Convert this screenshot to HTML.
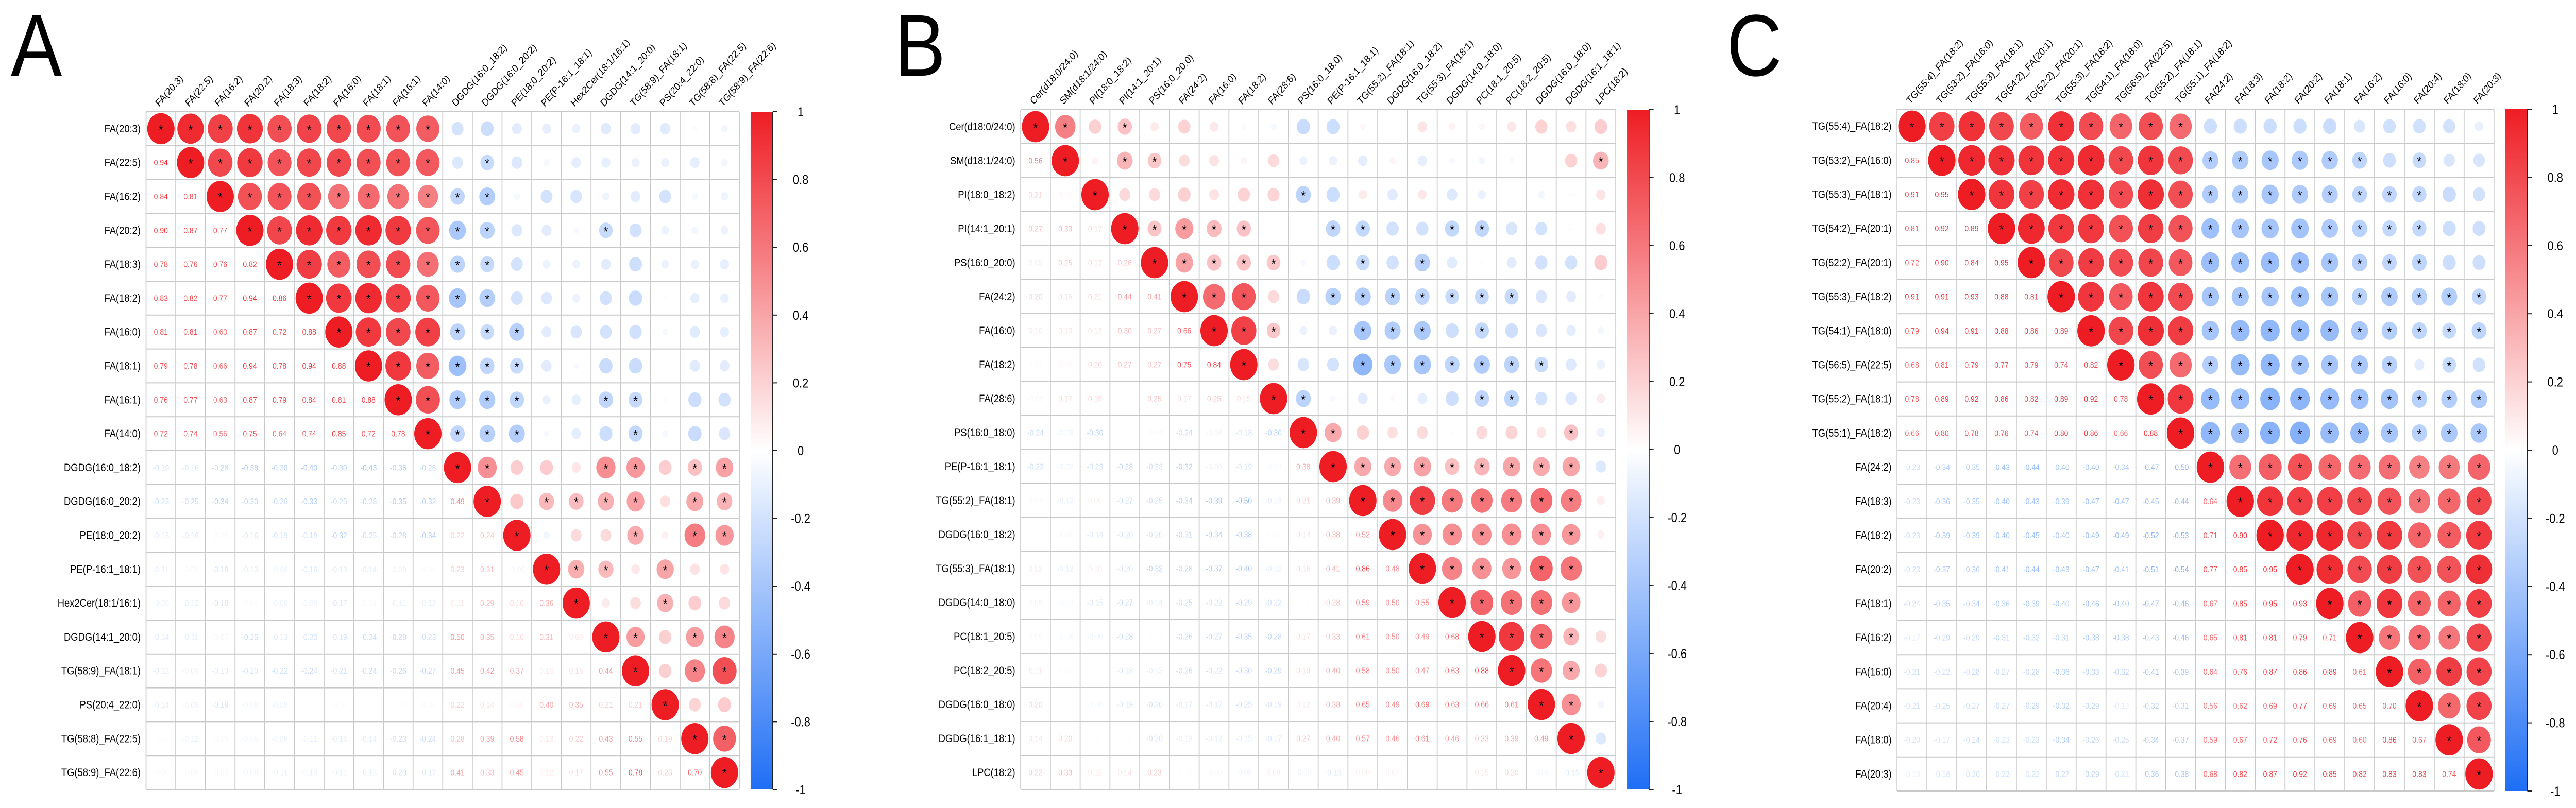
<!DOCTYPE html>
<html><head><meta charset="utf-8"><style>
html,body{margin:0;padding:0;background:#fff;overflow:hidden;width:100%;height:100%;}
svg{display:block;position:absolute;left:0;top:0;width:100vw;height:100vh;font-family:"Liberation Sans",sans-serif;}
</style></head><body>
<svg id="fig" viewBox="0 0 5714 1569" preserveAspectRatio="none" xmlns="http://www.w3.org/2000/svg"></svg>
<script>
const labelsA = ["FA(20:3)","FA(22:5)","FA(16:2)","FA(20:2)","FA(18:3)","FA(18:2)","FA(16:0)","FA(18:1)","FA(16:1)","FA(14:0)","DGDG(16:0_18:2)","DGDG(16:0_20:2)","PE(18:0_20:2)","PE(P-16:1_18:1)","Hex2Cer(18:1/16:1)","DGDG(14:1_20:0)","TG(58:9)_FA(18:1)","PS(20:4_22:0)","TG(58:8)_FA(22:5)","TG(58:9)_FA(22:6)"];
const labelsB = ["Cer(d18:0/24:0)","SM(d18:1/24:0)","PI(18:0_18:2)","PI(14:1_20:1)","PS(16:0_20:0)","FA(24:2)","FA(16:0)","FA(18:2)","FA(28:6)","PS(16:0_18:0)","PE(P-16:1_18:1)","TG(55:2)_FA(18:1)","DGDG(16:0_18:2)","TG(55:3)_FA(18:1)","DGDG(14:0_18:0)","PC(18:1_20:5)","PC(18:2_20:5)","DGDG(16:0_18:0)","DGDG(16:1_18:1)","LPC(18:2)"];
const labelsC = ["TG(55:4)_FA(18:2)","TG(53:2)_FA(16:0)","TG(55:3)_FA(18:1)","TG(54:2)_FA(20:1)","TG(52:2)_FA(20:1)","TG(55:3)_FA(18:2)","TG(54:1)_FA(18:0)","TG(56:5)_FA(22:5)","TG(55:2)_FA(18:1)","TG(55:1)_FA(18:2)","FA(24:2)","FA(18:3)","FA(18:2)","FA(20:2)","FA(18:1)","FA(16:2)","FA(16:0)","FA(20:4)","FA(18:0)","FA(20:3)"];
const corrA = [[],[0.94],[0.84,0.81],[0.90,0.87,0.77],[0.78,0.76,0.76,0.82],[0.83,0.82,0.77,0.94,0.86],[0.81,0.81,0.63,0.87,0.72,0.88],[0.79,0.78,0.66,0.94,0.78,0.94,0.88],[0.76,0.77,0.63,0.87,0.79,0.84,0.81,0.88],[0.72,0.74,0.56,0.75,0.64,0.74,0.85,0.72,0.78],[-0.19,-0.16,-0.28,-0.38,-0.30,-0.40,-0.30,-0.43,-0.36,-0.28],[-0.23,-0.25,-0.34,-0.30,-0.26,-0.33,-0.25,-0.28,-0.35,-0.32,0.49],[-0.13,-0.16,-0.05,-0.16,-0.19,-0.19,-0.32,-0.25,-0.28,-0.34,0.22,0.24],[-0.11,-0.05,-0.19,-0.13,-0.08,-0.16,-0.13,-0.14,-0.09,-0.04,0.23,0.31,-0.06],[-0.09,-0.12,-0.18,-0.04,-0.08,-0.08,-0.17,-0.04,-0.11,-0.12,0.11,0.29,0.16,0.36],[-0.14,-0.11,-0.07,-0.25,-0.13,-0.20,-0.19,-0.24,-0.28,-0.23,0.50,0.35,0.16,0.31,0.09],[-0.13,-0.09,-0.13,-0.20,-0.22,-0.24,-0.21,-0.24,-0.26,-0.27,0.45,0.42,0.37,0.10,0.15,0.44],[-0.14,-0.09,-0.19,-0.08,-0.08,-0.02,-0.04,-0.01,-0.02,-0.05,0.22,0.14,0.06,0.40,0.35,0.21,0.21],[-0.03,-0.12,-0.05,-0.06,-0.09,-0.11,-0.14,-0.14,-0.23,-0.24,0.28,0.39,0.58,0.13,0.22,0.43,0.55,0.19],[-0.06,-0.06,-0.07,-0.08,-0.11,-0.10,-0.11,-0.13,-0.20,-0.17,0.41,0.33,0.45,0.12,0.17,0.55,0.78,0.23,0.70]];
const corrB = [[],[0.56],[0.21,0.05],[0.27,0.33,0.17],[0.09,0.25,0.17,0.26],[0.20,0.15,0.21,0.44,0.41],[0.10,0.13,0.13,0.30,0.27,0.66],[0.03,0.05,0.20,0.27,0.27,0.75,0.84],[-0.05,0.17,0.19,0.01,0.25,0.17,0.25,0.15],[-0.24,-0.08,-0.30,0.01,-0.04,-0.24,-0.08,-0.18,-0.30],[-0.23,-0.09,-0.23,-0.28,-0.23,-0.32,-0.09,-0.19,-0.04,0.38],[0.04,-0.12,0.09,-0.27,-0.25,-0.34,-0.39,-0.50,-0.13,0.21,0.39],[0.01,0.05,-0.14,-0.20,-0.20,-0.31,-0.34,-0.38,0.03,0.14,0.38,0.52],[0.12,-0.12,0.10,-0.20,-0.32,-0.28,-0.37,-0.40,-0.12,0.16,0.41,0.86,0.48],[0.06,-0.04,-0.15,-0.27,-0.14,-0.25,-0.22,-0.29,-0.22,0.02,0.28,0.59,0.50,0.55],[0.05,-0.06,-0.09,-0.28,-0.02,-0.26,-0.27,-0.35,-0.28,0.17,0.33,0.61,0.50,0.49,0.68],[0.11,0.03,0.01,-0.18,-0.13,-0.26,-0.22,-0.30,-0.29,0.19,0.40,0.58,0.50,0.47,0.63,0.88],[0.20,0.01,-0.06,-0.19,-0.20,-0.17,-0.17,-0.25,-0.19,0.12,0.38,0.65,0.49,0.69,0.63,0.66,0.61],[0.14,0.20,0.02,-0.02,-0.20,-0.13,-0.12,-0.15,-0.17,0.27,0.40,0.57,0.46,0.61,0.46,0.33,0.39,0.49],[0.22,0.33,0.12,0.14,0.23,-0.03,-0.06,-0.09,0.09,-0.09,-0.15,0.08,0.07,0.01,0.01,0.15,0.20,-0.06,-0.15]];
const corrC = [[],[0.85],[0.91,0.95],[0.81,0.92,0.89],[0.72,0.90,0.84,0.95],[0.91,0.91,0.93,0.88,0.81],[0.79,0.94,0.91,0.88,0.86,0.89],[0.68,0.81,0.79,0.77,0.79,0.74,0.82],[0.78,0.89,0.92,0.86,0.82,0.89,0.92,0.78],[0.66,0.80,0.78,0.76,0.74,0.80,0.86,0.66,0.88],[-0.23,-0.34,-0.35,-0.43,-0.44,-0.40,-0.40,-0.34,-0.47,-0.50],[-0.23,-0.36,-0.35,-0.40,-0.43,-0.39,-0.47,-0.47,-0.45,-0.44,0.64],[-0.23,-0.39,-0.39,-0.40,-0.45,-0.40,-0.49,-0.49,-0.52,-0.53,0.71,0.90],[-0.23,-0.37,-0.36,-0.41,-0.44,-0.43,-0.47,-0.41,-0.51,-0.54,0.77,0.85,0.95],[-0.24,-0.35,-0.34,-0.36,-0.39,-0.40,-0.46,-0.40,-0.47,-0.46,0.67,0.85,0.95,0.93],[-0.17,-0.29,-0.29,-0.31,-0.32,-0.31,-0.38,-0.38,-0.43,-0.46,0.65,0.81,0.81,0.79,0.71],[-0.21,-0.22,-0.28,-0.27,-0.28,-0.36,-0.33,-0.32,-0.41,-0.39,0.64,0.76,0.87,0.86,0.89,0.61],[-0.21,-0.25,-0.27,-0.27,-0.29,-0.32,-0.29,-0.13,-0.32,-0.31,0.56,0.62,0.69,0.77,0.69,0.65,0.70],[-0.20,-0.17,-0.24,-0.23,-0.23,-0.34,-0.26,-0.25,-0.34,-0.37,0.59,0.67,0.72,0.76,0.69,0.60,0.86,0.67],[-0.10,-0.18,-0.20,-0.22,-0.22,-0.27,-0.29,-0.21,-0.36,-0.38,0.68,0.82,0.87,0.92,0.85,0.82,0.83,0.83,0.74]];
const colorbarTicks = [1,0.8,0.6,0.4,0.2,0,-0.2,-0.4,-0.6,-0.8,-1];
const colorbarTickLabels = ["1","0.8","0.6","0.4","0.2","0","-0.2","-0.4","-0.6","-0.8","-1"];
const panelLetters = ["A","B","C"];
const sigThreshold = 0.25;

const NS = "http://www.w3.org/2000/svg";
const svg = document.getElementById("fig");
function mk(tag, parent){ const e = document.createElementNS(NS, tag); parent.appendChild(e); return e; }
function colorOf(v){
  const t = Math.min(1, Math.abs(v));
  const c = v >= 0 ? [238,29,36] : [30,110,245];
  const r = Math.round(255 + (c[0]-255)*t), g = Math.round(255 + (c[1]-255)*t), b = Math.round(255 + (c[2]-255)*t);
  return "rgb(" + r + "," + g + "," + b + ")";
}
function getR(mat, i, j){ if (i === j) return 1; return i > j ? mat[i][j] : mat[j][i]; }

const defs = mk("defs", svg);
const grad = mk("linearGradient", defs);
grad.setAttribute("id", "cbgrad"); grad.setAttribute("x1","0"); grad.setAttribute("y1","0"); grad.setAttribute("x2","0"); grad.setAttribute("y2","1");
for (let k = 0; k <= 20; k++) {
  const st = mk("stop", grad);
  st.setAttribute("offset", (k/20).toString());
  st.setAttribute("stop-color", colorOf(1 - k/10));
}

const panels = [
  {letter: panelLetters[0], letterX: 24, left: 324, top: 217, cell: 65.8, labels: labelsA, data: corrA},
  {letter: panelLetters[1], letterX: 1984, left: 2264, top: 213, cell: 66, labels: labelsB, data: corrB},
  {letter: panelLetters[2], letterX: 3830, left: 4208, top: 212, cell: 66.2, labels: labelsC, data: corrC}
];

panels.forEach((p, pi) => {
  const n = p.labels.length, c = p.cell;
  const xs = j => p.left + j*c;
  const ys = i => p.top + i*c;
  const g = mk("g", svg);
  
  

  const L = mk("text", g);
  
  
  L.setAttribute("x", p.letterX); L.setAttribute("y", 147);
  L.setAttribute("font-size", 170); L.setAttribute("fill", "#000");
  L.textContent = p.letter;

  const grid = mk("g", g);
  
  
  for (let k = 0; k <= n; k++) {
    const h = mk("line", grid);
    h.setAttribute("x1", xs(0)); h.setAttribute("x2", xs(n)); h.setAttribute("y1", ys(k)); h.setAttribute("y2", ys(k));
    h.setAttribute("stroke", "#c9c9c9"); h.setAttribute("stroke-width", 2);
    const v = mk("line", grid);
    v.setAttribute("y1", ys(0)); v.setAttribute("y2", ys(n)); v.setAttribute("x1", xs(k)); v.setAttribute("x2", xs(k));
    v.setAttribute("stroke", "#c9c9c9"); v.setAttribute("stroke-width", 2);
  }

  for (let i = 0; i < n; i++) {
    const t = mk("text", g);
    
    
    t.setAttribute("x", xs(0) - 12); t.setAttribute("y", ys(i) + c/2 + 7);
    t.setAttribute("text-anchor", "end"); t.setAttribute("font-size", 21);
    t.textContent = p.labels[i];
    const ct = mk("text", g);
    
    
    const cx = xs(i) + c/2 - 4, cy = ys(0) - 9;
    ct.setAttribute("x", cx); ct.setAttribute("y", cy);
    ct.setAttribute("font-size", 20);
    ct.setAttribute("transform", "rotate(-45 " + cx + " " + cy + ")");
    ct.textContent = p.labels[i];
  }

  for (let i = 0; i < n; i++) {
    for (let j = 0; j < n; j++) {
      const r = getR(p.data, i, j);
      const cx = xs(j) + c/2, cy = ys(i) + c/2;
      if (j >= i) {
        const circ = mk("circle", g);
        
        
        circ.setAttribute("cx", cx); circ.setAttribute("cy", cy);
        circ.setAttribute("r", Math.sqrt(Math.abs(r)) * 0.46 * c);
        circ.setAttribute("fill", colorOf(r));
        if (Math.abs(r) >= sigThreshold) {
          const s = mk("text", g);
          
          
          s.setAttribute("x", cx); s.setAttribute("y", cy + 11);
          s.setAttribute("text-anchor", "middle"); s.setAttribute("font-size", 26);
          s.textContent = "*";
        }
      } else {
        const t = mk("text", g);
        
        
        t.setAttribute("x", cx); t.setAttribute("y", cy + 5.5);
        t.setAttribute("text-anchor", "middle"); t.setAttribute("font-size", 16);
        t.setAttribute("fill", colorOf(r));
        t.textContent = r.toFixed(2);
      }
    }
  }

  const cbx = xs(n) + 25, cbw = 49, cbTop = ys(0), cbBot = ys(n);
  const cb = mk("rect", g);
  
  
  cb.setAttribute("x", cbx); cb.setAttribute("y", cbTop); cb.setAttribute("width", cbw); cb.setAttribute("height", cbBot - cbTop);
  cb.setAttribute("fill", "url(#cbgrad)");
  const edge = mk("line", g);
  edge.setAttribute("x1", cbx + cbw); edge.setAttribute("x2", cbx + cbw); edge.setAttribute("y1", cbTop); edge.setAttribute("y2", cbBot);
  edge.setAttribute("stroke", "#222"); edge.setAttribute("stroke-width", 2);
  const yv = v => cbTop + (1 - v) / 2 * (cbBot - cbTop);
  colorbarTicks.forEach((v, k) => {
    const tk = mk("line", g);
    
    
    tk.setAttribute("x1", cbx + cbw); tk.setAttribute("x2", cbx + cbw + 10);
    tk.setAttribute("y1", yv(v)); tk.setAttribute("y2", yv(v));
    tk.setAttribute("stroke", "#222"); tk.setAttribute("stroke-width", 2);
    const tl = mk("text", g);
    
    
    tl.setAttribute("x", cbx + cbw + 62); tl.setAttribute("y", yv(v) + 9);
    tl.setAttribute("text-anchor", "middle"); tl.setAttribute("font-size", 25);
    tl.textContent = colorbarTickLabels[k];
  });
});
</script>
</body></html>
